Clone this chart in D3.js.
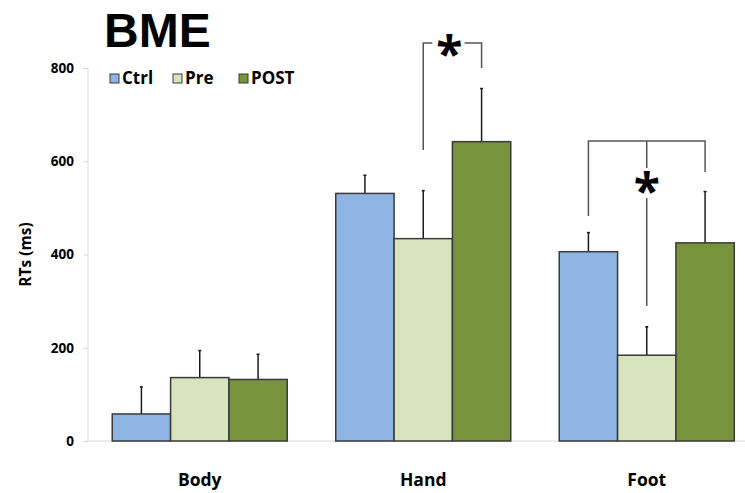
<!DOCTYPE html>
<html>
<head>
<meta charset="utf-8">
<script src="https://cdn.jsdelivr.net/npm/d3@7"></script>
<style>
  html, body { margin: 0; padding: 0; background: #fff; }
  svg { display: block; font-family: "Open Sans", "Noto Sans", sans-serif; }
</style>
</head>
<body>
<svg id="chart" width="745" height="493"></svg>
<script>
// Reaction times (ms) per body region and session
const regions = ["Body", "Hand", "Foot"];
const sessions = ["Ctrl", "Pre", "POST"];
const ctrlMeans = [58, 531, 406];
const preMeans = [136, 434, 184];
const postMeans = [132, 642, 425];
const ctrlUpper = [116, 570, 447];
const preUpper = [194, 537, 245];
const postUpper = [186, 756, 535];
const yTicks = [0, 200, 400, 600, 800];
const colors = ["#8EB4E3", "#D7E4BD", "#77933C"];

const means = [ctrlMeans, preMeans, postMeans];
const uppers = [ctrlUpper, preUpper, postUpper];

const svg = d3.select("#chart");
const baseY = 441, topY = 68;
const left = 88, right = 758.5;

const y = d3.scaleLinear().domain([0, 800]).range([baseY, topY]);
const x0 = d3.scaleBand().domain(regions).range([left, right]).paddingInner(0.217).paddingOuter(0.1085);
const x1 = d3.scaleBand().domain(sessions).range([0, x0.bandwidth()]);

// Axes
svg.append("line").attr("x1", left).attr("x2", 745).attr("y1", baseY).attr("y2", baseY)
  .attr("stroke", "#d9d9d9").attr("stroke-width", 1);
svg.append("line").attr("x1", left).attr("x2", left).attr("y1", topY).attr("y2", baseY)
  .attr("stroke", "#d9d9d9").attr("stroke-width", 1);

const yAxis = d3.axisLeft(y).tickValues(yTicks).tickSize(5).tickPadding(9);
const yg = svg.append("g").attr("transform", `translate(${left},0)`).call(yAxis);
yg.select(".domain").remove();
yg.selectAll(".tick line").attr("stroke", "#d9d9d9");
yg.selectAll(".tick text").attr("font-size", 13.5).attr("font-weight", 700)
  .attr("fill", "#000").attr("font-family", "Open Sans, sans-serif");

svg.append("text").attr("transform", `translate(31,${(baseY + topY) / 2}) rotate(-90)`)
  .attr("text-anchor", "middle").attr("font-size", 15.5).attr("font-weight", 700).text("RTs (ms)");

// Category labels
svg.selectAll(".cat").data(regions).join("text")
  .attr("x", d => x0(d) + x0.bandwidth() / 2).attr("y", 486)
  .attr("text-anchor", "middle").attr("font-size", 17.5).attr("font-weight", 700).text(d => d);

// Error bars (upper only) drawn behind bars
const barData = [];
sessions.forEach((s, si) => regions.forEach((r, ri) => {
  barData.push({ region: r, session: s, si, value: means[si][ri], upper: uppers[si][ri] });
}));
const cx = d => x0(d.region) + x1(d.session) + x1.bandwidth() / 2;

const eb = svg.append("g");
barData.forEach(d => {
  eb.append("line").attr("x1", cx(d)).attr("x2", cx(d)).attr("y1", y(d.value)).attr("y2", y(d.upper))
    .attr("stroke", "#1a1a1a").attr("stroke-width", 1.5);
  eb.append("line").attr("x1", cx(d) - 1.5).attr("x2", cx(d) + 1.5).attr("y1", y(d.upper)).attr("y2", y(d.upper))
    .attr("stroke", "#1a1a1a").attr("stroke-width", 1.5);
});

// Bars
svg.append("g").selectAll("rect").data(barData).join("rect")
  .attr("x", d => x0(d.region) + x1(d.session))
  .attr("y", d => y(d.value))
  .attr("width", x1.bandwidth())
  .attr("height", d => baseY - y(d.value))
  .attr("fill", d => colors[d.si])
  .attr("stroke", "#3a3a3a").attr("stroke-width", 1.5);

// Significance brackets
const br = svg.append("g").attr("stroke", "#555").attr("stroke-width", 1.5).attr("fill", "none");
const cOf = (r, s) => x0(r) + x1(s) + x1.bandwidth() / 2;
// Hand: Pre vs POST
const hPre = cOf("Hand", "Pre"), hPost = cOf("Hand", "POST");
const hTop = 43;
br.append("path").attr("d", `M${hPre},150V${hTop}H${hPre + 9}`);
br.append("path").attr("d", `M${hPost - 17},${hTop}H${hPost}V68`);
// Foot: Ctrl / POST vs Pre
const fCtrl = cOf("Foot", "Ctrl"), fPre = cOf("Foot", "Pre"), fPost = cOf("Foot", "POST");
const fTop = 141;
br.append("path").attr("d", `M${fCtrl},216V${fTop}H${fPost}V172`);
br.append("path").attr("d", `M${fPre},${fTop}V168`);
br.append("path").attr("d", `M${fPre},198V306`);

svg.append("text").attr("x", (hPre + hPost) / 2 - 3).attr("y", 71).attr("text-anchor", "middle")
  .attr("font-size", 48).attr("font-weight", 700).text("*");
svg.append("text").attr("x", fPre).attr("y", 208).attr("text-anchor", "middle")
  .attr("font-size", 48).attr("font-weight", 700).text("*");

// Title
svg.append("text").attr("x", 104).attr("y", 47).attr("font-size", 48).attr("font-weight", 700)
  .attr("font-family", "Liberation Sans, Arial, sans-serif").text("BME");

// Legend
const lg = svg.append("g");
const legX = [110, 173, 239];
sessions.forEach((s, i) => {
  lg.append("rect").attr("x", legX[i]).attr("y", 74).attr("width", 9).attr("height", 9)
    .attr("fill", colors[i]).attr("stroke", "#3a3a3a").attr("stroke-width", 1);
  lg.append("text").attr("x", legX[i] + 12).attr("y", 84).attr("font-size", 17).attr("font-weight", 700).text(s);
});
</script>
</body>
</html>
